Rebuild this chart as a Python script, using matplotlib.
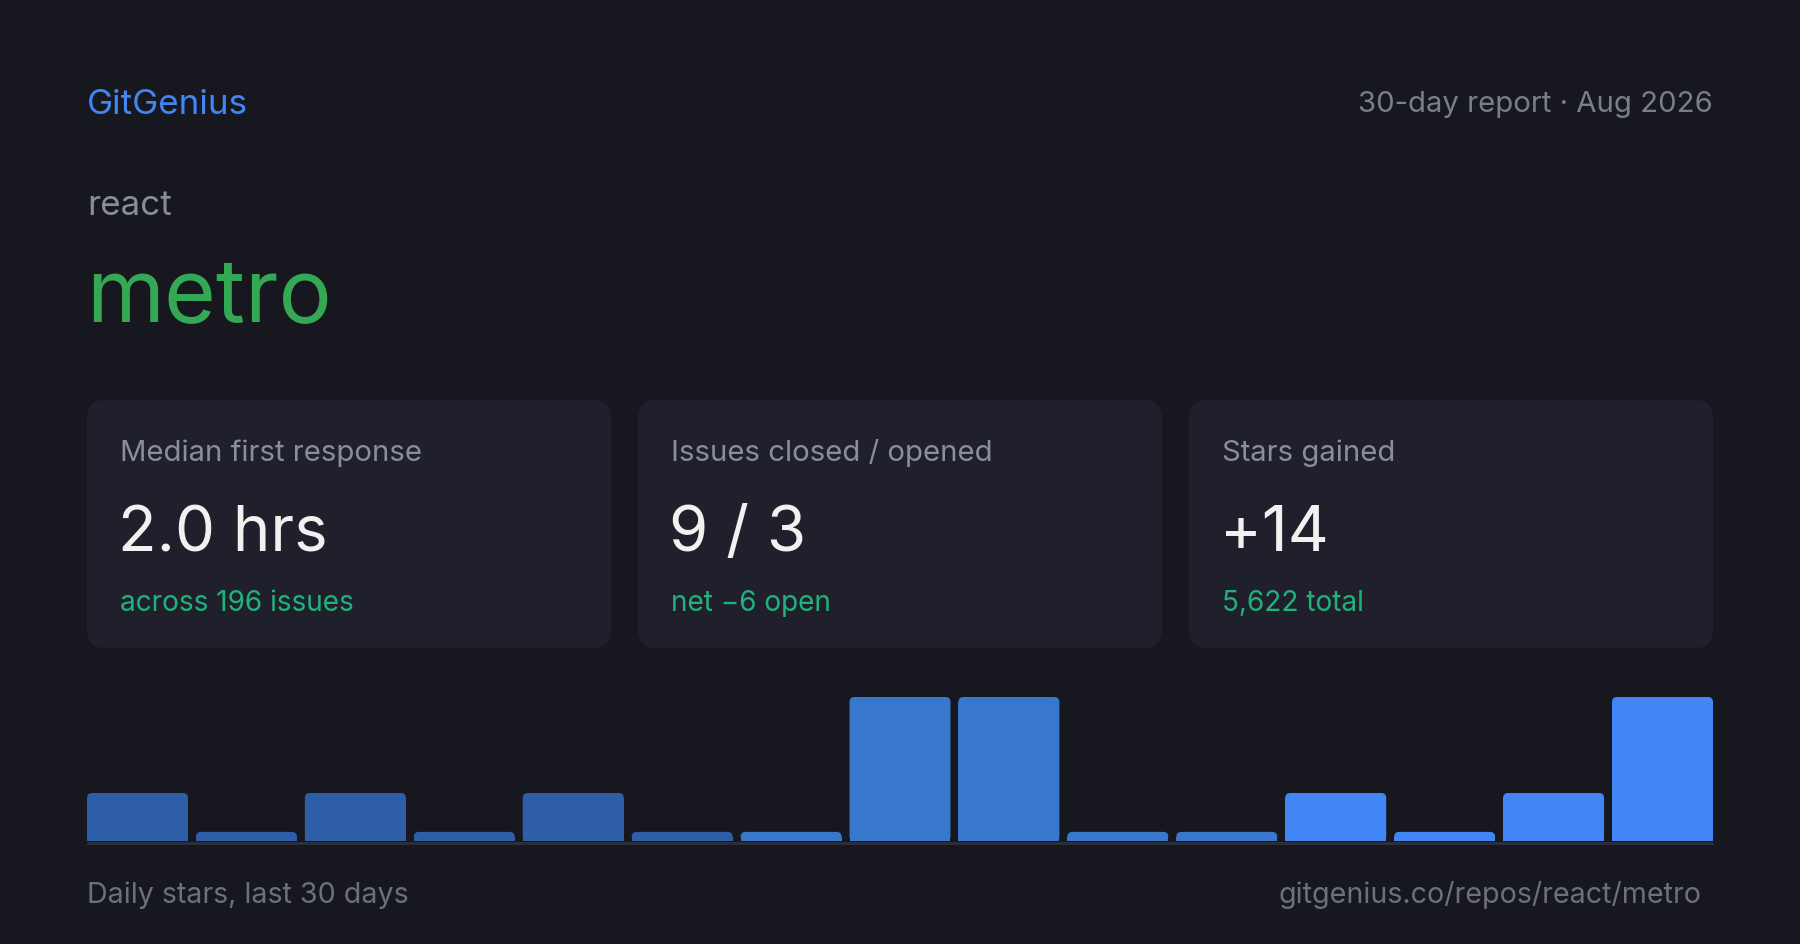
import matplotlib
matplotlib.use('Agg')
import matplotlib.pyplot as plt
from matplotlib.patches import FancyBboxPatch
import numpy as np

# data
brand = 'GitGenius'
report_label = '30-day report · Aug 2026'
owner = 'react'
repo = 'metro'
card_titles = ['Median first response', 'Issues closed / opened', 'Stars gained']
card_values = ['2.0 hrs', '9 / 3', '+14']
card_notes = ['across 196 issues', 'net −6 open', '5,622 total']
daily_stars = [1, 0, 1, 0, 1, 0, 0, 3, 3, 0, 0, 1, 0, 1, 3]
footer_left = 'Daily stars, last 30 days'
footer_right = 'gitgenius.co/repos/react/metro'

# colours
BG = '#16171f'
CARD = '#1f202b'
bar_colors = ['#2e5ea8'] * 6 + ['#3778cc'] * 5 + ['#4285f4'] * 4

plt.rcParams['font.family'] = ['Inter', 'DejaVu Sans']

W, H = 1800, 945
fig = plt.figure(figsize=(W / 100, H / 100), dpi=100, facecolor=BG)

# overlay in pixel units for the layout
lay = fig.add_axes([0, 0, 1, 1])
lay.set_xlim(0, W)
lay.set_ylim(H, 0)
lay.axis('off')

def px(size):
    return size * 0.72

lay.text(87, 114, brand, color='#4285f4', fontsize=px(35), va='baseline')
lay.text(1713, 112, report_label, color='#7b7d88', fontsize=px(29.3),
         va='baseline', ha='right')
lay.text(87, 215, owner, color='#8a8c96', fontsize=px(35), va='baseline')
lay.text(86, 322, repo, color='#34a853', fontsize=px(89), va='baseline')

card_left = [87, 638, 1189]
card_w = 524
for i, x0 in enumerate(card_left):
    lay.add_patch(FancyBboxPatch((x0, 401), card_w, 248,
                                 boxstyle='round,pad=0,rounding_size=18',
                                 fc=CARD, ec='none'))
    lay.text(x0 + 33, 461, card_titles[i], color='#8b8d98', fontsize=px(29.3),
             va='baseline')
    lay.text(x0 + 31, 551, card_values[i], color='#f1f1ef', fontsize=px(63.5),
             va='baseline')
    lay.text(x0 + 33, 611, card_notes[i], color='#1fb27a', fontsize=px(28),
             va='baseline')

# baseline under the bars
lay.plot([87, 1713], [843.5, 843.5], color='#2c2e39', lw=px(3),
         solid_capstyle='butt')

lay.text(87, 903, footer_left, color='#6e7079', fontsize=px(28.6), va='baseline')
lay.text(1701, 903, footer_right, color='#6e7079', fontsize=px(28.6),
         va='baseline', ha='right')

# bar chart
ax_w, ax_h = 1626, 144
ax = fig.add_axes([87 / W, (H - 842) / H, ax_w / W, ax_h / H])
ax.set_facecolor('none')
vals = np.array(daily_stars, dtype=float)
shown = np.maximum(vals, 0.19)  # zero days still get a thin stub
xs = np.arange(len(vals))
width = 0.927
ax.set_xlim(-width / 2, len(vals) - 1 + width / 2)
ax.set_ylim(0, max(vals))

# rounded top corners, 5 px
x_unit = ax_w / (len(vals) - 1 + width)
y_unit = ax_h / max(vals)
rx, ry = 5 / x_unit, 5 / y_unit
ax.bar(xs, shown - ry, width=width, color=bar_colors, edgecolor='none')
for x, h, c in zip(xs, shown, bar_colors):
    ax.add_patch(FancyBboxPatch((x - width / 2, 0), width, h,
                                boxstyle=f'round,pad=0,rounding_size={rx}',
                                mutation_aspect=ry / rx, fc=c, ec='none'))
ax.axis('off')

fig.savefig('out.png', dpi=100, facecolor=BG)
